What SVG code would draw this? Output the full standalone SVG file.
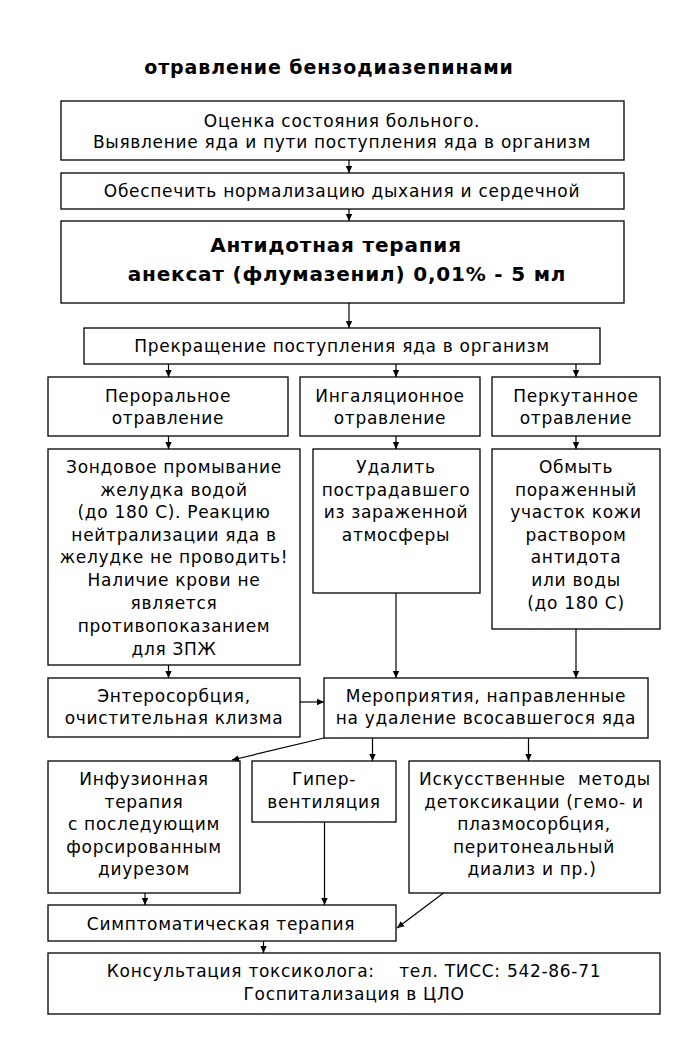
<svg xmlns="http://www.w3.org/2000/svg" width="693" height="1051" viewBox="0 0 693 1051">
<defs>
<marker id="ah" markerWidth="8" markerHeight="8" refX="7" refY="4" orient="auto" markerUnits="userSpaceOnUse">
<path d="M0,0.8 L7,4 L0,7.2 Z" fill="#000"/>
</marker>
<style>
rect{fill:#fff;stroke:#000;stroke-width:1.3}
text{font-family:"DejaVu Sans","Verdana",sans-serif;font-size:17px;letter-spacing:0.7px;fill:#000;text-anchor:middle}
.b{font-weight:bold;font-size:20px;letter-spacing:0.8px}
.t{font-weight:bold;font-size:19px;letter-spacing:0.9px}
.c line,.c path{stroke:#000;stroke-width:1.2;fill:none;marker-end:url(#ah)}
</style>
</defs>
<rect x="0" y="0" width="693" height="1051" style="stroke:none"/>
<text class="t" x="329" y="74">отравление бензодиазепинами</text>

<g id="n1"><rect x="61" y="101" width="563" height="59"/>
<text x="342" y="127">Оценка состояния больного.</text>
<text x="342" y="148">Выявление яда и пути поступления яда в организм</text></g>

<g id="n2"><rect x="61" y="173" width="563" height="36"/>
<text x="342" y="197">Обеспечить нормализацию дыхания и сердечной</text></g>

<g id="n3"><rect x="61" y="221" width="563" height="82"/>
<text class="b" x="336" y="252">Антидотная терапия</text>
<text class="b" x="347" y="281">анексат (флумазенил) 0,01% - 5 мл</text></g>

<g id="n4"><rect x="84" y="328" width="516" height="36"/>
<text x="342" y="352">Прекращение поступления яда в организм</text></g>

<g id="n5a"><rect x="48" y="377" width="240" height="59"/>
<text x="168" y="402">Пероральное</text>
<text x="168" y="424">отравление</text></g>
<g id="n5b"><rect x="300" y="377" width="180" height="59"/>
<text x="390" y="402">Ингаляционное</text>
<text x="390" y="424">отравление</text></g>
<g id="n5c"><rect x="492" y="377" width="168" height="59"/>
<text x="576" y="402">Перкутанное</text>
<text x="576" y="424">отравление</text></g>

<g id="n6a"><rect x="48" y="449" width="252" height="216"/>
<text x="174" y="473">Зондовое промывание</text>
<text x="174" y="496">желудка водой</text>
<text x="174" y="518">(до 180 С). Реакцию</text>
<text x="174" y="541">нейтрализации яда в</text>
<text x="174" y="563">желудке не проводить!</text>
<text x="174" y="586">Наличие крови не</text>
<text x="174" y="609">является</text>
<text x="174" y="632">противопоказанием</text>
<text x="174" y="655">для ЗПЖ</text></g>
<g id="n6b"><rect x="313" y="449" width="167" height="144"/>
<text x="396" y="473">Удалить</text>
<text x="396" y="496">пострадавшего</text>
<text x="396" y="518">из зараженной</text>
<text x="396" y="541">атмосферы</text></g>
<g id="n6c"><rect x="492" y="449" width="168" height="180"/>
<text x="576" y="473">Обмыть</text>
<text x="576" y="496">пораженный</text>
<text x="576" y="518">участок кожи</text>
<text x="576" y="541">раствором</text>
<text x="576" y="563">антидота</text>
<text x="576" y="586">или воды</text>
<text x="576" y="609">(до 180 С)</text></g>

<g id="n7a"><rect x="48" y="678" width="252" height="59"/>
<text x="174" y="702">Энтеросорбция,</text>
<text x="174" y="724">очистительная клизма</text></g>
<g id="n7b"><rect x="324" y="678" width="324" height="60"/>
<text x="486" y="702">Мероприятия, направленные</text>
<text x="486" y="724">на удаление всосавшегося яда</text></g>

<g id="n8a"><rect x="48" y="761" width="192" height="132"/>
<text x="144" y="785">Инфузионная</text>
<text x="144" y="808">терапия</text>
<text x="144" y="830">с последующим</text>
<text x="144" y="853">форсированным</text>
<text x="144" y="875">диурезом</text></g>
<g id="n8b"><rect x="252" y="761" width="144" height="61"/>
<text x="324" y="785">Гипер-</text>
<text x="324" y="808">вентиляция</text></g>
<g id="n8c"><rect x="409" y="761" width="251" height="132"/>
<text x="535" y="785" style="white-space:pre">Искусственные  методы</text>
<text x="534" y="808">детоксикации (гемо- и</text>
<text x="534" y="830">плазмосорбция,</text>
<text x="534" y="853">перитонеальный</text>
<text x="532" y="875">диализ и пр.)</text></g>

<g id="n9"><rect x="48" y="905" width="348" height="36"/>
<text x="221" y="930">Симптоматическая терапия</text></g>

<g id="n10"><rect x="48" y="953" width="612" height="61"/>
<text x="354" y="977" style="white-space:pre">Консультация токсиколога:    тел. ТИСС: 542-86-71</text>
<text x="354" y="1000">Госпитализация в ЦЛО</text></g>

<g id="connectors" class="c">
<line x1="349" y1="160" x2="349" y2="173"/>
<line x1="349" y1="209" x2="349" y2="221"/>
<line x1="349" y1="303" x2="349" y2="328"/>
<line x1="168.5" y1="364" x2="168.5" y2="377"/>
<line x1="396" y1="364" x2="396" y2="377"/>
<line x1="576" y1="364" x2="576" y2="377"/>
<line x1="168.5" y1="436" x2="168.5" y2="449"/>
<line x1="396" y1="436" x2="396" y2="449"/>
<line x1="576" y1="436" x2="576" y2="449"/>
<line x1="168.5" y1="665" x2="168.5" y2="678"/>
<line x1="396" y1="593" x2="396" y2="678"/>
<line x1="576" y1="629" x2="576" y2="678"/>
<line x1="300" y1="702" x2="324" y2="702"/>
<line x1="324" y1="738" x2="232" y2="760"/>
<line x1="372.5" y1="738" x2="372.5" y2="761"/>
<line x1="528.5" y1="738" x2="528.5" y2="761"/>
<line x1="145" y1="893" x2="145" y2="905"/>
<line x1="324.5" y1="822" x2="324.5" y2="905"/>
<line x1="443.5" y1="893" x2="397" y2="928"/>
<line x1="263.5" y1="941" x2="263.5" y2="953"/>
</g>
</svg>
